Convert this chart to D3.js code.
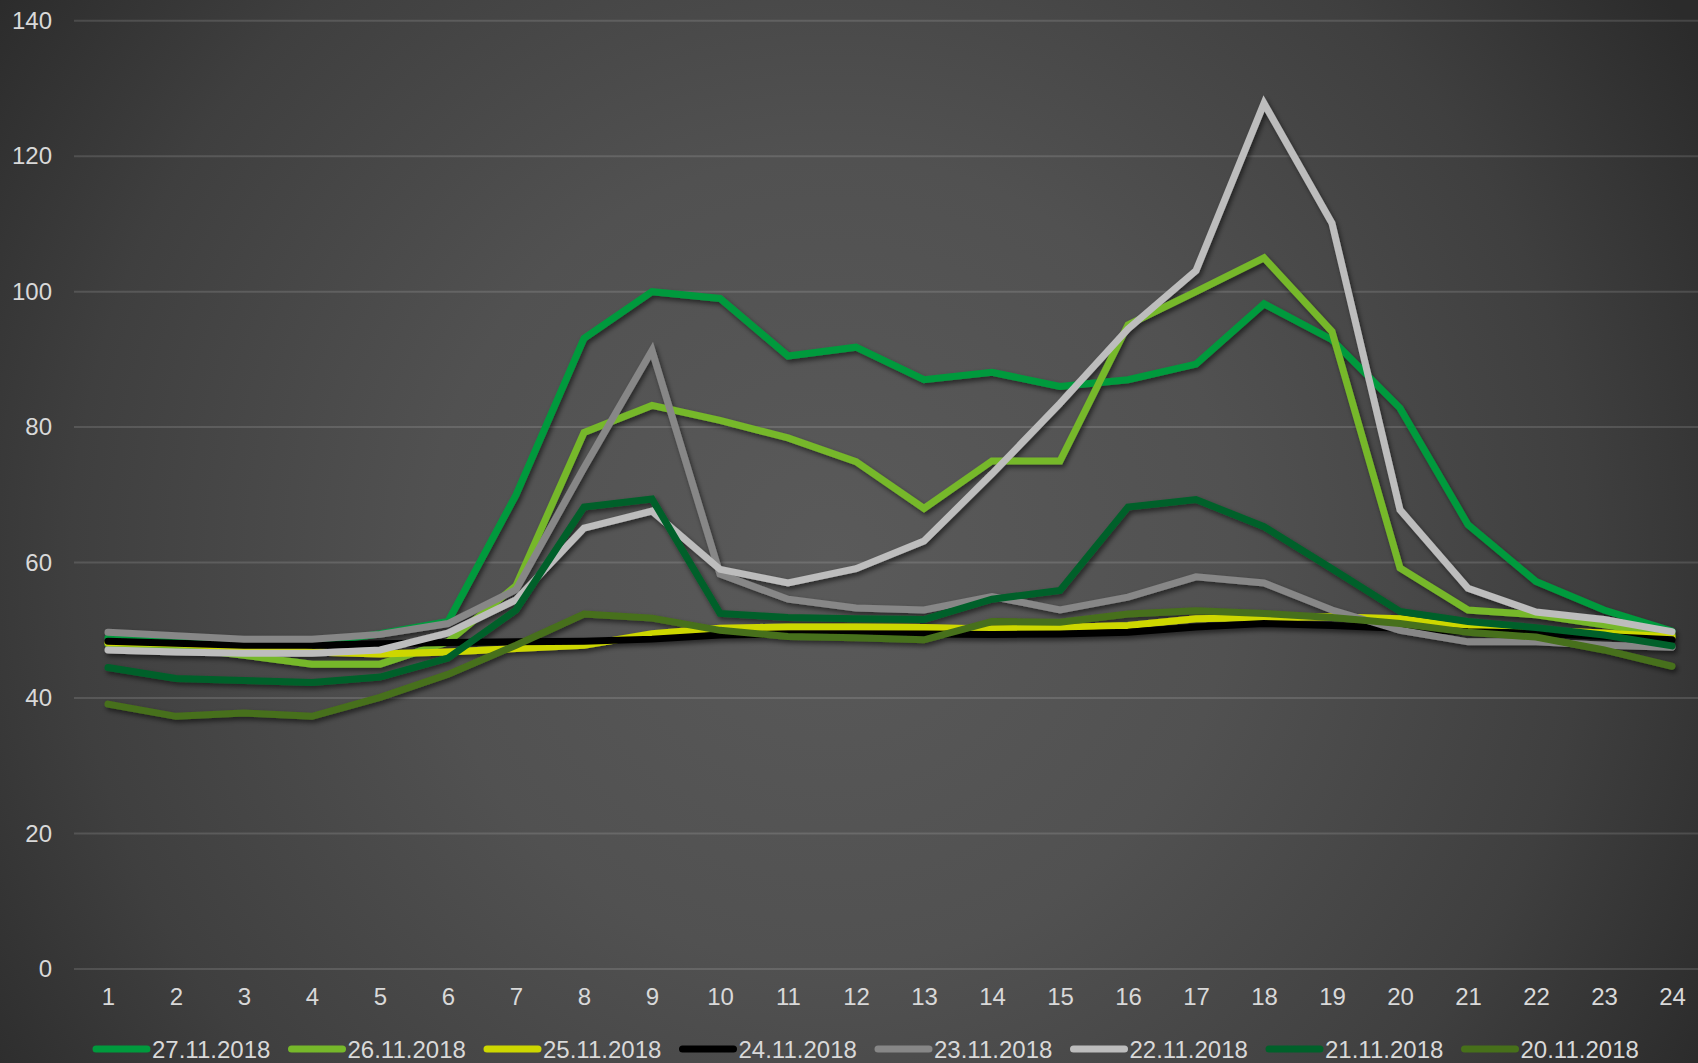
<!DOCTYPE html>
<html>
<head>
<meta charset="utf-8">
<script src="https://cdn.jsdelivr.net/npm/d3@7"></script>
<style>
  html, body { margin: 0; padding: 0; background: #2b2b2b; }
  svg { display: block; }
  text { font-family: "Liberation Sans", Arial, sans-serif; fill: #d9d9d9; }
</style>
</head>
<body>
<script>
// Hour of day
const hours = [1, 2, 3, 4, 5, 6, 7, 8, 9, 10, 11, 12, 13, 14, 15, 16, 17, 18, 19, 20, 21, 22, 23, 24];

// Hourly values per day
const d27 = [48.9, 48.5, 48.0, 48.0, 49.5, 51.3, 70.0, 93.1, 100.0, 99.0, 90.5, 91.8, 87.0, 88.1, 86.0, 87.0, 89.3, 98.2, 92.9, 82.8, 65.6, 57.2, 53.0, 49.9];
const d26 = [48.0, 47.5, 46.3, 45.0, 45.0, 48.3, 56.6, 79.2, 83.2, 81.0, 78.4, 74.9, 68.0, 75.0, 75.0, 95.1, 100.0, 105.0, 94.1, 59.2, 53.0, 52.3, 50.8, 49.3];
const d25 = [48.2, 48.0, 47.5, 46.8, 46.5, 46.8, 47.3, 47.8, 49.5, 50.3, 50.5, 50.5, 50.4, 50.2, 50.4, 50.7, 51.7, 51.9, 52.0, 51.7, 50.4, 50.0, 49.6, 49.0];
const d24 = [48.4, 48.1, 47.8, 47.8, 48.0, 48.2, 48.3, 48.4, 48.7, 49.3, 49.45, 49.45, 49.45, 49.4, 49.45, 49.7, 50.5, 51.0, 50.7, 50.3, 49.8, 49.6, 49.1, 48.6];
const d23 = [49.7, 49.2, 48.7, 48.7, 49.4, 51.0, 56.0, 74.0, 91.3, 58.3, 54.6, 53.3, 53.0, 55.0, 53.0, 54.9, 57.9, 57.0, 53.0, 50.0, 48.3, 48.3, 47.8, 47.5];
const d22 = [47.1, 46.8, 46.6, 46.6, 47.1, 49.6, 54.5, 65.1, 67.6, 59.0, 57.0, 59.1, 63.2, 73.1, 83.5, 94.5, 103.1, 127.8, 110.1, 67.8, 56.2, 52.7, 51.6, 49.8];
const d21 = [44.5, 42.9, 42.6, 42.3, 43.1, 45.9, 53.0, 68.2, 69.4, 52.5, 51.9, 51.7, 51.6, 54.6, 55.9, 68.2, 69.3, 65.3, 59.1, 52.8, 51.3, 50.4, 49.3, 47.7];
const d20 = [39.1, 37.3, 37.8, 37.3, 40.1, 43.5, 47.8, 52.4, 51.8, 50.0, 49.1, 48.9, 48.6, 51.3, 51.2, 52.4, 52.9, 52.5, 51.9, 51.0, 49.7, 49.0, 47.1, 44.7];

const seriesNames = ["27.11.2018", "26.11.2018", "25.11.2018", "24.11.2018", "23.11.2018", "22.11.2018", "21.11.2018", "20.11.2018"];
const seriesValues = [d27, d26, d25, d24, d23, d22, d21, d20];
const seriesColors = ["#009a3d", "#76b82a", "#cdd700", "#000000", "#878787", "#bdbdbd", "#00612a", "#47701a"];

const yTicks = [0, 20, 40, 60, 80, 100, 120, 140];

const W = 1698, H = 1063;
const fontSize = 24;

const svg = d3.select("body").append("svg")
  .attr("width", W).attr("height", H);

const defs = svg.append("defs");

// soft radial backdrop
const bg = defs.append("radialGradient")
  .attr("id", "bgGrad")
  .attr("gradientUnits", "userSpaceOnUse")
  .attr("cx", 830).attr("cy", 560).attr("r", 1010);
[[0, "#5a5a5a"], [0.4, "#515151"], [0.75, "#3f3f3f"], [1, "#2b2b2b"]]
  .forEach(([o, c]) => bg.append("stop").attr("offset", o).attr("stop-color", c));

const shadow = defs.append("filter")
  .attr("id", "lineShadow")
  .attr("x", "-5%").attr("y", "-5%").attr("width", "110%").attr("height", "110%");
shadow.append("feDropShadow")
  .attr("dx", 2).attr("dy", 3).attr("stdDeviation", 2.5)
  .attr("flood-color", "#000").attr("flood-opacity", 0.55);

svg.append("rect").attr("width", W).attr("height", H).attr("fill", "url(#bgGrad)");

const x = d3.scalePoint().domain(hours).range([108, 1672]);
const step = x.step();
const y = d3.scaleLinear().domain([0, 140]).range([969, 20.7]);

// horizontal gridlines
svg.append("g").selectAll("line").data(yTicks).join("line")
  .attr("x1", x(hours[0]) - step / 2).attr("x2", x(hours[hours.length - 1]) + step / 2)
  .attr("y1", d => y(d)).attr("y2", d => y(d))
  .attr("stroke", "rgba(255,255,255,0.13)").attr("stroke-width", 2);

// y axis labels
const yAxis = d3.axisLeft(y).tickValues(yTicks).tickSize(0).tickPadding(0);
const gy = svg.append("g").attr("transform", "translate(52,0)").call(yAxis);
gy.select(".domain").remove();
gy.selectAll("text").attr("font-size", fontSize).attr("fill", "#d9d9d9")
  .style("font-family", "'Liberation Sans', Arial, sans-serif");

// x axis labels
const xAxis = d3.axisBottom(x).tickSize(0).tickPadding(0);
const gx = svg.append("g").attr("transform", "translate(0,990)").call(xAxis);
gx.select(".domain").remove();
gx.selectAll("text").attr("font-size", fontSize).attr("fill", "#d9d9d9").attr("dy", 0)
  .attr("dominant-baseline", "middle").attr("y", 9)
  .style("font-family", "'Liberation Sans', Arial, sans-serif");

// series lines, first day at the bottom
const line = d3.line().x((d, i) => x(hours[i])).y(d => y(d));
svg.append("g").attr("filter", "url(#lineShadow)")
  .selectAll("path").data(seriesValues).join("path")
  .attr("d", d => line(d))
  .attr("fill", "none")
  .attr("stroke", (d, i) => seriesColors[i])
  .attr("stroke-width", 7)
  .attr("stroke-linecap", "round")
  .attr("stroke-linejoin", "miter")
  .attr("stroke-miterlimit", 10);

// legend
const legend = svg.append("g");
const legendStart = 93, legendStep = 195.5, legendY = 1049;
const items = legend.selectAll("g").data(seriesNames).join("g")
  .attr("transform", (d, i) => `translate(${legendStart + i * legendStep},${legendY})`);
items.append("line")
  .attr("x1", 3).attr("x2", 54).attr("y1", 0).attr("y2", 0)
  .attr("stroke", (d, i) => seriesColors[i])
  .attr("stroke-width", 7).attr("stroke-linecap", "round");
items.append("text")
  .attr("x", 59).attr("y", 0).attr("dy", "0.36em")
  .attr("font-size", fontSize)
  .text(d => d);
</script>
</body>
</html>
